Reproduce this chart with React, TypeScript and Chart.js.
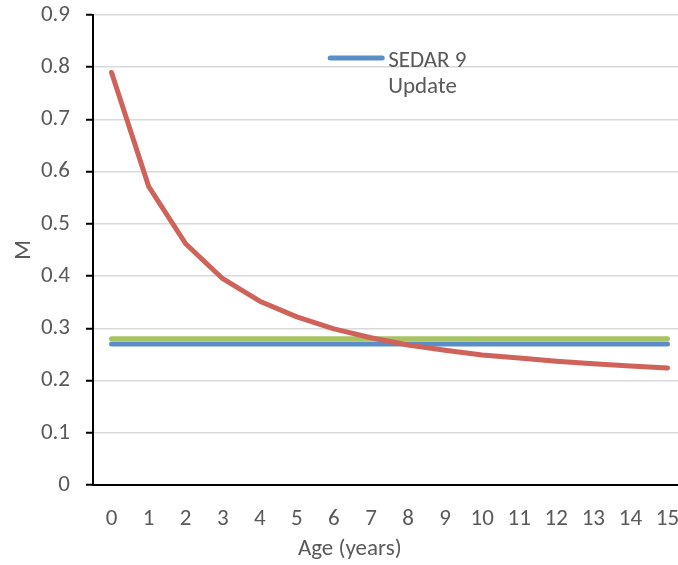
import React, { useEffect, useRef } from "react";
import { Chart, registerables } from "chart.js";

Chart.register(...registerables);

// Ages on the x axis
const ages = ["0", "1", "2", "3", "4", "5", "6", "7", "8", "9", "10", "11", "12", "13", "14", "15"];

// Natural mortality by age (declining curve)
const mAtAge = [0.79, 0.572, 0.462, 0.395, 0.352, 0.322, 0.299, 0.282, 0.268, 0.258, 0.249, 0.243, 0.237, 0.232, 0.228, 0.224];

// Constant-M series
const sedar9Update = [0.27, 0.27, 0.27, 0.27, 0.27, 0.27, 0.27, 0.27, 0.27, 0.27, 0.27, 0.27, 0.27, 0.27, 0.27, 0.27];
const constantM = [0.28, 0.28, 0.28, 0.28, 0.28, 0.28, 0.28, 0.28, 0.28, 0.28, 0.28, 0.28, 0.28, 0.28, 0.28, 0.28];

// Y tick values
const yTicks = [0, 0.1, 0.2, 0.3, 0.4, 0.5, 0.6, 0.7, 0.8, 0.9];

const legendLines = ["SEDAR 9", "Update"];
const xTitle = "Age (years)";

const FONT = "Carlito, Lato, 'Liberation Sans', sans-serif";
const FS = 23;
const TEXT = "#595959";
const RED = "#cf6259";
const GREEN = "#a7c364";
const BLUE = "#5b8ec9";

// Draws the in-plot legend entry and the x-axis title
const annotationsPlugin = {
  id: "annotations",
  afterDraw(chart: any) {
    const { ctx, chartArea } = chart;
    const w = chartArea.right - chartArea.left;
    const x0 = chartArea.left + w * 0.4;
    const y0 = chartArea.top + 43;
    ctx.save();
    ctx.strokeStyle = BLUE;
    ctx.lineWidth = 5;
    ctx.lineCap = "round";
    ctx.beginPath();
    ctx.moveTo(x0, y0);
    ctx.lineTo(x0 + 52, y0);
    ctx.stroke();
    ctx.fillStyle = TEXT;
    ctx.font = `${FS}px ${FONT}`;
    ctx.textBaseline = "middle";
    ctx.textAlign = "left";
    legendLines.forEach((t, i) => {
      ctx.fillText(t, x0 + 58, y0 + 3 + i * 26);
    });
    ctx.textAlign = "center";
    ctx.fillText(xTitle, chartArea.left + w * 0.433, chartArea.bottom + 64);
    ctx.restore();
  },
};

export default function App() {
  const ref = useRef<HTMLCanvasElement | null>(null);

  useEffect(() => {
    if (!ref.current) return;
    const chart = new Chart(ref.current, {
      type: "line",
      data: {
        labels: ages,
        datasets: [
          {
            label: "M at age",
            data: mAtAge,
            borderColor: RED,
            borderWidth: 5,
            borderCapStyle: "round",
            borderJoinStyle: "round",
            pointRadius: 0,
            tension: 0,
          },
          {
            label: "Constant M",
            data: constantM,
            borderColor: GREEN,
            borderWidth: 5,
            borderCapStyle: "round",
            pointRadius: 0,
            tension: 0,
          },
          {
            label: "SEDAR 9 Update",
            data: sedar9Update,
            borderColor: BLUE,
            borderWidth: 5,
            borderCapStyle: "round",
            pointRadius: 0,
            tension: 0,
          },
        ],
      },
      options: {
        responsive: false,
        animation: false,
        layout: { padding: { left: 10, right: 14, top: 15, bottom: 2 } },
        plugins: {
          legend: { display: false },
          tooltip: { enabled: false },
        },
        scales: {
          x: {
            type: "category",
            offset: true,
            afterFit: (scale: any) => {
              scale.height = 78;
            },
            grid: { display: false, drawTicks: false },
            border: { color: "#000000", width: 2 },
            ticks: {
              color: TEXT,
              font: { family: FONT, size: FS },
              padding: 20,
              autoSkip: false,
              maxRotation: 0,
            },
          },
          y: {
            min: 0,
            max: 0.9,
            afterBuildTicks: (axis: any) => {
              axis.ticks = yTicks.map((v) => ({ value: v }));
            },
            afterFit: (scale: any) => {
              scale.width = 83;
              scale.paddingTop = 0;
              scale.paddingBottom = 0;
            },
            grid: {
              color: "#d9d9d9",
              lineWidth: 1.5,
              tickColor: "#000000",
              tickLength: 7,
              tickWidth: 2,
            },
            border: { color: "#000000", width: 2 },
            ticks: {
              color: TEXT,
              font: { family: FONT, size: FS },
              padding: 16,
              callback: (v: any) => String(Number(Number(v).toFixed(1))),
            },
            title: {
              display: true,
              text: "M",
              color: TEXT,
              font: { family: FONT, size: FS },
              padding: { top: 0, bottom: 0 },
            },
          },
        },
      },
      plugins: [annotationsPlugin],
    });
    return () => chart.destroy();
  }, []);

  return (
    <div style={{ position: "fixed", left: 0, top: 0, width: 678, height: 565, overflow: "hidden", background: "#ffffff" }}>
      <canvas ref={ref} width={700} height={565} style={{ display: "block" }} />
    </div>
  );
}
